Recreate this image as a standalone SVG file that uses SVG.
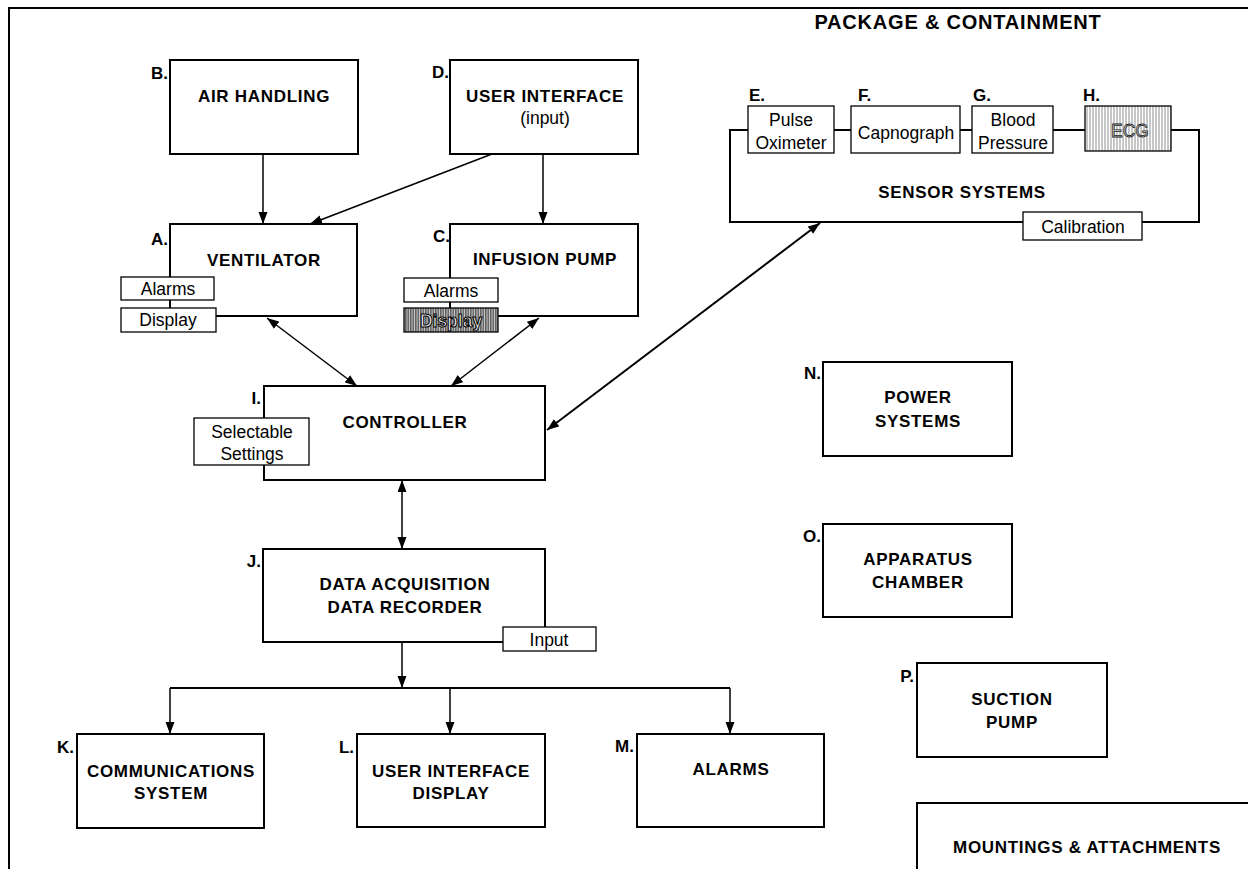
<svg xmlns="http://www.w3.org/2000/svg" width="1248" height="869" viewBox="0 0 1248 869">
<style>
.box{fill:#fff;stroke:#000;stroke-width:2}
.sbox{fill:#fff;stroke:#000;stroke-width:1.3}
.b{font-family:"Liberation Sans",Arial,sans-serif;font-weight:bold;font-size:17px;letter-spacing:0.7px;text-anchor:middle;fill:#000}
.lbl{font-family:"Liberation Sans",Arial,sans-serif;font-weight:bold;font-size:17px;text-anchor:end;fill:#000}
.lbs{font-family:"Liberation Sans",Arial,sans-serif;font-weight:bold;font-size:17px;text-anchor:start;fill:#000}
.r{font-family:"Liberation Sans",Arial,sans-serif;font-size:17.5px;text-anchor:middle;fill:#000}
.ln{stroke:#000;stroke-width:1.5;fill:none}
.ln2{stroke:#000;stroke-width:2;fill:none}
</style>
<defs>
<marker id="ah" markerUnits="userSpaceOnUse" markerWidth="13" markerHeight="10" refX="12" refY="4.5" orient="auto-start-reverse">
<path d="M0,0 L12,4.5 L0,9 z" fill="#000"/>
</marker>
<pattern id="hatchLight" patternUnits="userSpaceOnUse" width="3" height="4">
<rect width="3" height="4" fill="#fff"/>
<line x1="1" y1="0" x2="1" y2="4" stroke="#999" stroke-width="1.1"/>
</pattern>
<pattern id="hatchDark" patternUnits="userSpaceOnUse" width="2.5" height="4">
<rect width="2.5" height="4" fill="#ccc"/>
<line x1="0.8" y1="0" x2="0.8" y2="4" stroke="#333" stroke-width="1.1"/>
</pattern>
</defs>
<rect width="1248" height="869" fill="#fff"/>

<g id="frame">
<path d="M9,869 V8 H1248" class="ln2"/>
<text class="b" x="958" y="29" style="font-size:20px;letter-spacing:0.8px">PACKAGE &amp; CONTAINMENT</text>
</g>

<g id="connectors">
<line class="ln" x1="263" y1="154" x2="263" y2="224" marker-end="url(#ah)"/>
<line class="ln" x1="543" y1="154" x2="543" y2="224" marker-end="url(#ah)"/>
<line class="ln" x1="492" y1="154" x2="310" y2="224" marker-end="url(#ah)"/>
<line class="ln" x1="267" y1="318" x2="357" y2="386" marker-start="url(#ah)" marker-end="url(#ah)"/>
<line class="ln" x1="539" y1="318" x2="451" y2="386" marker-start="url(#ah)" marker-end="url(#ah)"/>
<line class="ln2" x1="547" y1="430" x2="820" y2="223" marker-start="url(#ah)" marker-end="url(#ah)"/>
<line class="ln" x1="402" y1="480" x2="402" y2="549" marker-start="url(#ah)" marker-end="url(#ah)"/>
<line class="ln" x1="402" y1="642" x2="402" y2="688" marker-end="url(#ah)"/>
<path class="ln2" d="M170,688 H730"/>
<line class="ln" x1="170" y1="688" x2="170" y2="734" marker-end="url(#ah)"/>
<line class="ln" x1="450" y1="688" x2="450" y2="734" marker-end="url(#ah)"/>
<line class="ln" x1="730" y1="688" x2="730" y2="734" marker-end="url(#ah)"/>
</g>

<g id="nodeB">
<rect class="box" x="170" y="60" width="188" height="94"/>
<text class="lbl" x="168" y="79">B.</text>
<text class="b" x="264" y="102">AIR HANDLING</text>
</g>

<g id="nodeD">
<rect class="box" x="450" y="60" width="188" height="94"/>
<text class="lbl" x="449" y="78">D.</text>
<text class="b" x="545" y="102">USER INTERFACE</text>
<text class="r" x="545" y="124">(input)</text>
</g>

<g id="nodeA">
<rect class="box" x="170" y="224" width="187" height="92"/>
<text class="lbl" x="168" y="245">A.</text>
<text class="b" x="264" y="266">VENTILATOR</text>
<rect class="sbox" x="121" y="277" width="93" height="23"/>
<text class="r" x="168" y="295">Alarms</text>
<rect class="sbox" x="121" y="308" width="95" height="24"/>
<text class="r" x="168" y="326">Display</text>
</g>

<g id="nodeC">
<rect class="box" x="450" y="224" width="188" height="92"/>
<text class="lbl" x="450" y="242">C.</text>
<text class="b" x="545" y="265">INFUSION PUMP</text>
<rect class="sbox" x="404" y="278" width="94" height="24"/>
<text class="r" x="451" y="297">Alarms</text>
<rect x="404" y="308" width="94" height="24" fill="url(#hatchDark)" stroke="#000" stroke-width="1.3"/>
<text class="r" x="451" y="327" style="fill:#eee;stroke:#000;stroke-width:1px;font-weight:bold">Display</text>
</g>

<g id="nodeSensors">
<rect class="box" x="730" y="130" width="469" height="92"/>
<text class="b" x="962" y="198">SENSOR SYSTEMS</text>
<g id="nodeE">
<rect class="sbox" x="748" y="106" width="86" height="47"/>
<text class="lbs" x="749" y="101">E.</text>
<text class="r" x="791" y="126">Pulse</text>
<text class="r" x="791" y="149">Oximeter</text>
</g>
<g id="nodeF">
<rect class="sbox" x="851" y="106" width="109" height="47"/>
<text class="lbs" x="858" y="101">F.</text>
<text class="r" x="906" y="139">Capnograph</text>
</g>
<g id="nodeG">
<rect class="sbox" x="972" y="106" width="81" height="47"/>
<text class="lbs" x="973" y="101">G.</text>
<text class="r" x="1013" y="126">Blood</text>
<text class="r" x="1013" y="149">Pressure</text>
</g>
<g id="nodeH">
<rect x="1085" y="106" width="86" height="45" fill="url(#hatchLight)" stroke="#000" stroke-width="1.3"/>
<text class="lbs" x="1083" y="101">H.</text>
<text class="r" x="1130" y="137" style="fill:#ddd;stroke:#222;stroke-width:0.8px">ECG</text>
</g>
<g id="nodeCal">
<rect class="sbox" x="1023" y="212" width="119" height="28"/>
<text class="r" x="1083" y="233">Calibration</text>
</g>
</g>

<g id="nodeI">
<rect class="box" x="264" y="386" width="281" height="94"/>
<text class="lbl" x="261" y="404">I.</text>
<text class="b" x="405" y="428">CONTROLLER</text>
<rect class="sbox" x="194" y="418" width="115" height="47"/>
<text class="r" x="252" y="438">Selectable</text>
<text class="r" x="252" y="460">Settings</text>
</g>

<g id="nodeJ">
<rect class="box" x="263" y="549" width="282" height="93"/>
<text class="lbl" x="261" y="567">J.</text>
<text class="b" x="405" y="590">DATA ACQUISITION</text>
<text class="b" x="405" y="613">DATA RECORDER</text>
<rect class="sbox" x="503" y="627" width="93" height="24"/>
<text class="r" x="549" y="646">Input</text>
</g>

<g id="nodeK">
<rect class="box" x="77" y="734" width="187" height="94"/>
<text class="lbl" x="74" y="753">K.</text>
<text class="b" x="171" y="777">COMMUNICATIONS</text>
<text class="b" x="171" y="799">SYSTEM</text>
</g>

<g id="nodeL">
<rect class="box" x="357" y="734" width="188" height="93"/>
<text class="lbl" x="354" y="753">L.</text>
<text class="b" x="451" y="777">USER INTERFACE</text>
<text class="b" x="451" y="799">DISPLAY</text>
</g>

<g id="nodeM">
<rect class="box" x="637" y="734" width="187" height="93"/>
<text class="lbl" x="634" y="752">M.</text>
<text class="b" x="731" y="775">ALARMS</text>
</g>

<g id="nodeN">
<rect class="box" x="823" y="362" width="189" height="94"/>
<text class="lbl" x="821" y="379">N.</text>
<text class="b" x="918" y="403">POWER</text>
<text class="b" x="918" y="427">SYSTEMS</text>
</g>

<g id="nodeO">
<rect class="box" x="823" y="524" width="189" height="93"/>
<text class="lbl" x="821" y="542">O.</text>
<text class="b" x="918" y="565">APPARATUS</text>
<text class="b" x="918" y="588">CHAMBER</text>
</g>

<g id="nodeP">
<rect class="box" x="917" y="663" width="190" height="94"/>
<text class="lbl" x="914" y="682">P.</text>
<text class="b" x="1012" y="705">SUCTION</text>
<text class="b" x="1012" y="728">PUMP</text>
</g>

<g id="nodeMount">
<path class="ln2" d="M917,869 V803 H1248"/>
<text class="b" x="1087" y="853">MOUNTINGS &amp; ATTACHMENTS</text>
</g>
</svg>
